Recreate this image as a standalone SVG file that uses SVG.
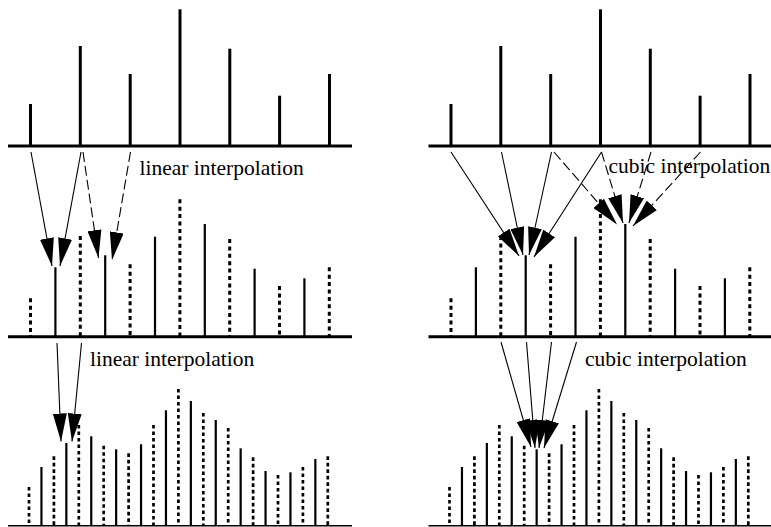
<svg xmlns="http://www.w3.org/2000/svg" width="771" height="527" viewBox="0 0 771 527">
  <style>
    .axis { stroke: #000; stroke-width: 3; fill: none; }
    .axis-thin { stroke: #000; stroke-width: 1.5; fill: none; }
    .tall { stroke: #000; stroke-width: 3; fill: none; }
    .solid { stroke: #000; stroke-width: 2.2; fill: none; }
    .dot { stroke: #000; stroke-width: 3; fill: none; stroke-dasharray: 4 3.4; }
    .dot-fine { stroke: #000; stroke-width: 2.7; fill: none; stroke-dasharray: 3.6 2.9; }
    .arw { stroke: #000; stroke-width: 1.1; fill: none; marker-end: url(#head); }
    .dash { stroke-dasharray: 10 4; }
    .label { font-family: "Liberation Serif", "Times New Roman", serif; font-size: 21.5px; fill: #000; }
  </style>
  <defs>
    <marker id="head" viewBox="0 -7 28 14" refX="28" refY="0" markerWidth="28" markerHeight="14" markerUnits="userSpaceOnUse" orient="auto">
      <path d="M0,-7 L28,0 L0,7 Z" fill="#000"/>
    </marker>
    <!-- original samples -->
    <g id="samples">
      <line class="axis" x1="8" y1="146" x2="352" y2="146"/>
      <line class="tall" x1="30.5" y1="104" x2="30.5" y2="146"/>
      <line class="tall" x1="80.3" y1="46" x2="80.3" y2="146"/>
      <line class="tall" x1="130.2" y1="74" x2="130.2" y2="146"/>
      <line class="tall" x1="180" y1="9.3" x2="180" y2="146"/>
      <line class="tall" x1="229.8" y1="48.7" x2="229.8" y2="146"/>
      <line class="tall" x1="279.6" y1="95.7" x2="279.6" y2="146"/>
      <line class="tall" x1="329.5" y1="74" x2="329.5" y2="146"/>
    </g>
    <!-- 2x upsampled: dotted = original, solid = interpolated -->
    <g id="upsampled2">
      <line class="axis" x1="8" y1="336.7" x2="352" y2="336.7"/>
      <line class="dot" x1="30.5" y1="298.3" x2="30.5" y2="336"/>
      <line class="solid" x1="55.4" y1="267.3" x2="55.4" y2="336"/>
      <line class="dot" x1="80.3" y1="236" x2="80.3" y2="336"/>
      <line class="solid" x1="105.2" y1="255.3" x2="105.2" y2="336"/>
      <line class="dot" x1="130.1" y1="264.3" x2="130.1" y2="336"/>
      <line class="solid" x1="155" y1="236.7" x2="155" y2="336"/>
      <line class="dot" x1="179.9" y1="199.3" x2="179.9" y2="336"/>
      <line class="solid" x1="204.8" y1="224" x2="204.8" y2="336"/>
      <line class="dot" x1="229.7" y1="239" x2="229.7" y2="336"/>
      <line class="solid" x1="254.6" y1="268.7" x2="254.6" y2="336"/>
      <line class="dot" x1="279.5" y1="286" x2="279.5" y2="336"/>
      <line class="solid" x1="304.4" y1="278.3" x2="304.4" y2="336"/>
      <line class="dot" x1="329.3" y1="267.3" x2="329.3" y2="336"/>
    </g>
    <!-- 4x upsampled -->
    <g id="upsampled4">
      <line class="axis-thin" x1="8" y1="525.7" x2="352" y2="525.7"/>
      <line class="dot-fine" x1="29" y1="487" x2="29" y2="525"/>
      <line class="solid" x1="41.45" y1="467" x2="41.45" y2="525"/>
      <line class="dot-fine" x1="53.9" y1="456.3" x2="53.9" y2="525"/>
      <line class="solid" x1="66.35" y1="443" x2="66.35" y2="525"/>
      <line class="dot-fine" x1="78.8" y1="425" x2="78.8" y2="525"/>
      <line class="solid" x1="91.25" y1="436.3" x2="91.25" y2="525"/>
      <line class="dot-fine" x1="103.7" y1="445.7" x2="103.7" y2="525"/>
      <line class="solid" x1="116.15" y1="449.3" x2="116.15" y2="525"/>
      <line class="dot-fine" x1="128.6" y1="453.3" x2="128.6" y2="525"/>
      <line class="solid" x1="141.05" y1="444.3" x2="141.05" y2="525"/>
      <line class="dot-fine" x1="153.5" y1="425" x2="153.5" y2="525"/>
      <line class="solid" x1="165.95" y1="410.3" x2="165.95" y2="525"/>
      <line class="dot-fine" x1="178.4" y1="389" x2="178.4" y2="525"/>
      <line class="solid" x1="190.85" y1="401" x2="190.85" y2="525"/>
      <line class="dot-fine" x1="203.3" y1="413" x2="203.3" y2="525"/>
      <line class="solid" x1="215.75" y1="420" x2="215.75" y2="525"/>
      <line class="dot-fine" x1="228.2" y1="428" x2="228.2" y2="525"/>
      <line class="solid" x1="240.65" y1="448.3" x2="240.65" y2="525"/>
      <line class="dot-fine" x1="253.1" y1="457.3" x2="253.1" y2="525"/>
      <line class="solid" x1="265.55" y1="471" x2="265.55" y2="525"/>
      <line class="dot-fine" x1="278" y1="475" x2="278" y2="525"/>
      <line class="solid" x1="290.45" y1="472.3" x2="290.45" y2="525"/>
      <line class="dot-fine" x1="302.9" y1="467" x2="302.9" y2="525"/>
      <line class="solid" x1="315.35" y1="459" x2="315.35" y2="525"/>
      <line class="dot-fine" x1="327.8" y1="456.3" x2="327.8" y2="525"/>
    </g>
  </defs>

  <!-- linear column -->
  <g id="linear-samples"><use href="#samples"/></g>
  <g id="linear-up2"><use href="#upsampled2"/></g>
  <g id="linear-up4"><use href="#upsampled4"/></g>

  <!-- cubic column -->
  <g id="cubic-samples"><use href="#samples" x="420.5"/></g>
  <g id="cubic-up2"><use href="#upsampled2" x="420.5"/></g>
  <g id="cubic-up4"><use href="#upsampled4" x="420.5"/></g>

  <g id="labels">
    <text class="label" x="139.5" y="174.5">linear interpolation</text>
    <text class="label" x="608.5" y="172.5">cubic interpolation</text>
    <text class="label" x="90" y="365.5">linear interpolation</text>
    <text class="label" x="585" y="365.5">cubic interpolation</text>
  </g>

  <g id="connectors">
    <!-- linear, first stage -->
    <line class="arw" x1="31" y1="152" x2="52" y2="266"/>
    <line class="arw" x1="81" y1="152" x2="60" y2="266"/>
    <line class="arw dash" x1="83" y1="152" x2="98.5" y2="258"/>
    <line class="arw dash" x1="130.5" y1="152" x2="112" y2="260"/>
    <!-- linear, second stage -->
    <line class="arw" x1="57" y1="343" x2="61" y2="441.5"/>
    <line class="arw" x1="81.5" y1="343" x2="72" y2="441.5"/>
    <!-- cubic, first stage -->
    <line class="arw" x1="451" y1="152" x2="519" y2="256"/>
    <line class="arw" x1="501.5" y1="152" x2="523" y2="255"/>
    <line class="arw" x1="551.5" y1="152" x2="529" y2="255"/>
    <line class="arw" x1="601.5" y1="152" x2="534" y2="257"/>
    <line class="arw dash" x1="554" y1="152" x2="617" y2="224.5"/>
    <line class="arw dash" x1="601.5" y1="152" x2="623" y2="223"/>
    <line class="arw dash" x1="651" y1="152" x2="629" y2="223"/>
    <line class="arw dash" x1="700.5" y1="152" x2="633" y2="226"/>
    <!-- cubic, second stage -->
    <line class="arw" x1="501" y1="342" x2="531" y2="447"/>
    <line class="arw" x1="526.5" y1="342" x2="535" y2="448"/>
    <line class="arw" x1="551.5" y1="342" x2="539" y2="448"/>
    <line class="arw" x1="576.5" y1="342" x2="544" y2="448"/>
  </g>
</svg>
